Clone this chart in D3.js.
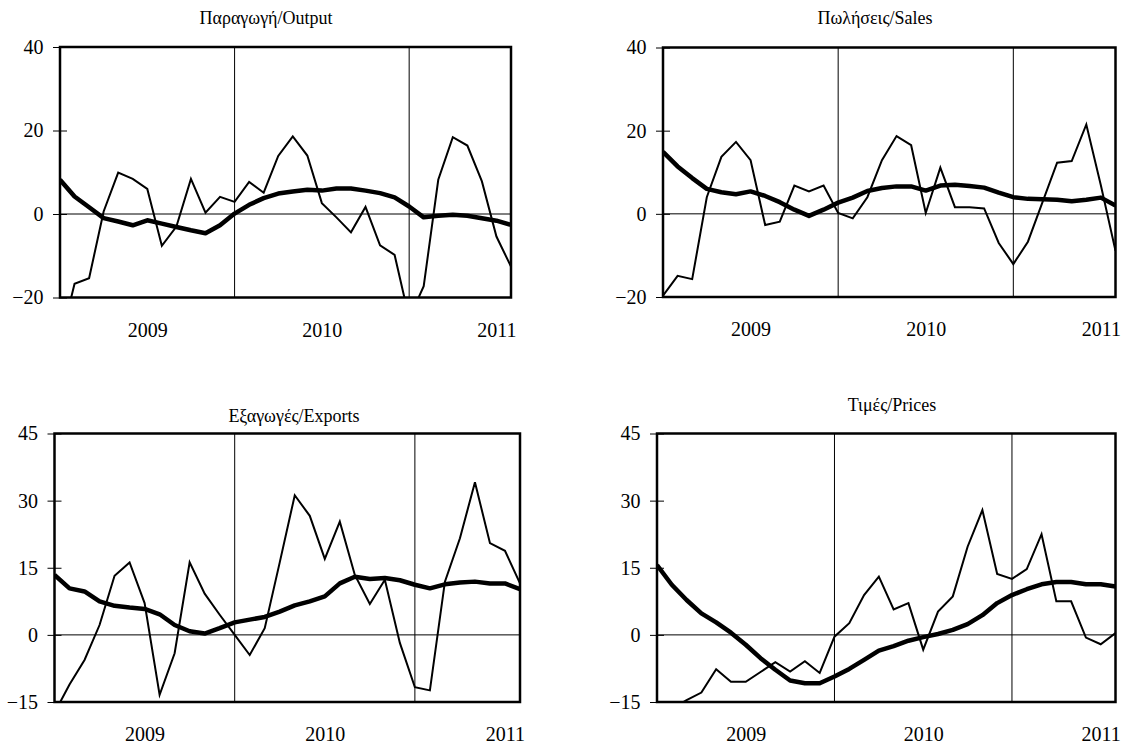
<!DOCTYPE html>
<html lang="el">
<head>
  <meta charset="UTF-8">
  <title>Output, Sales, Exports, Prices</title>
  <style type="text/css">
    body{
      margin: 0;
      background: #fff;
      font-family: "Liberation Serif", "Times New Roman", serif;
    }
    .title{
      font-size: 18px;
      fill: black;
      text-anchor: middle;
    }
    .axis text{
      font-family: "Liberation Serif", "Times New Roman", serif;
      font-size: 20px;
      fill: black;
    }
    .axis line{
      stroke: black;
      stroke-width: 1px;
    }
    .axis path{
      display: none;
    }
    .grid{
      stroke: black;
      stroke-width: 1px;
    }
    .frame{
      fill: none;
      stroke: black;
      stroke-width: 2.5px;
    }
    .actual{
      fill: none;
      stroke: black;
      stroke-width: 2px;
    }
    .trend{
      fill: none;
      stroke: black;
      stroke-width: 4.5px;
      stroke-linejoin: round;
    }
  </style>
  <script type="text/javascript" src="https://d3js.org/d3.v7.min.js"></script>
</head>
<body>
<script type="text/javascript">
  // monthly observations, Jan 2009 - Aug 2011
  var months = ['2009-01','2009-02','2009-03','2009-04','2009-05','2009-06',
                '2009-07','2009-08','2009-09','2009-10','2009-11','2009-12',
                '2010-01','2010-02','2010-03','2010-04','2010-05','2010-06',
                '2010-07','2010-08','2010-09','2010-10','2010-11','2010-12',
                '2011-01','2011-02','2011-03','2011-04','2011-05','2011-06',
                '2011-07','2011-08'];
  var yearLabels = ['2009', '2010', '2011'];
  var yearMid = ['2009-07', '2010-07', '2011-07'];
  var yearStarts = ['2010-01', '2011-01'];

  var titles = ['Παραγωγή/Output', 'Πωλήσεις/Sales', 'Εξαγωγές/Exports', 'Τιμές/Prices'];
  var ticksTop = [-20, 0, 20, 40];
  var ticksBottom = [-15, 0, 15, 30, 45];

  var outputActual = [-31, -16.7, -15.4, 0.6, 9.9, 8.4, 6.0, -7.6, -3.0, 8.4, 0.3, 4.1,
                      2.9, 7.7, 5.1, 13.9, 18.6, 14.0, 2.6, -0.8, -4.4, 1.7, -7.5, -9.8,
                      -25, -17.3, 8.2, 18.4, 16.4, 7.8, -5.4, -12.6];
  var outputTrend = [8.2, 4.2, 1.6, -1.0, -1.8, -2.7, -1.5, -2.3, -3.1, -3.9, -4.6, -2.7,
                     0.1, 2.2, 3.8, 4.9, 5.4, 5.8, 5.6, 6.1, 6.1, 5.6, 5.0, 4.0,
                     1.8, -0.8, -0.4, -0.2, -0.4, -1.0, -1.6, -2.6];

  var salesActual = [-19.7, -14.9, -15.7, 4.0, 13.7, 17.3, 12.9, -2.7, -1.9, 6.8, 5.4, 6.8,
                     0.2, -1.1, 4.0, 12.9, 18.7, 16.5, 0.2, 11.1, 1.6, 1.6, 1.3, -7.0,
                     -12.1, -6.7, 2.8, 12.3, 12.7, 21.5, 6.8, -8.9];
  var salesTrend = [14.9, 11.4, 8.6, 6.0, 5.2, 4.7, 5.4, 4.3, 2.8, 1.0, -0.5, 1.0,
                    2.7, 3.9, 5.5, 6.2, 6.6, 6.6, 5.6, 6.8, 7.0, 6.7, 6.3, 5.1,
                    4.0, 3.6, 3.5, 3.4, 3.0, 3.4, 3.9, 2.0];

  var exportsActual = [-17.4, -11.1, -5.6, 2.2, 13.2, 16.2, 7.1, -13.4, -4.1, 16.2, 9.2, 4.5,
                       0.0, -4.5, 1.5, 16.2, 31.2, 26.6, 17.0, 25.3, 13.4, 6.9, 12.3, -1.8,
                       -11.7, -12.4, 11.9, 21.6, 34.1, 20.5, 18.8, 11.5];
  var exportsTrend = [13.4, 10.4, 9.7, 7.5, 6.5, 6.1, 5.8, 4.6, 2.2, 0.8, 0.3, 1.5,
                      2.8, 3.4, 4.0, 5.2, 6.6, 7.5, 8.6, 11.5, 13.0, 12.5, 12.7, 12.2,
                      11.2, 10.4, 11.3, 11.7, 11.9, 11.5, 11.5, 10.2];

  var pricesActual = [-18, -16.5, -14.6, -12.9, -7.7, -10.5, -10.5, -8.3, -6.1, -8.2, -5.9, -8.5,
                      -0.4, 2.6, 8.9, 13.0, 5.7, 7.1, -3.3, 5.2, 8.6, 19.7, 27.9, 13.6,
                      12.5, 14.7, 22.5, 7.5, 7.5, -0.6, -2.1, 0.4];
  var pricesTrend = [15.6, 11.2, 7.8, 4.8, 2.8, 0.5, -2.2, -5.2, -7.8, -10.2, -10.8, -10.8,
                     -9.3, -7.6, -5.6, -3.5, -2.5, -1.3, -0.5, 0.2, 1.1, 2.4, 4.4, 7.1,
                     8.9, 10.2, 11.3, 11.8, 11.8, 11.3, 11.3, 10.8];

  var panels = [
    {title: titles[0], actual: outputActual, trend: outputTrend, ticks: ticksTop,
     left: 60, right: 511, top: 47, bottom: 297.5, tx: 266, ty: 24},
    {title: titles[1], actual: salesActual, trend: salesTrend, ticks: ticksTop,
     left: 663, right: 1115.5, top: 47.5, bottom: 297, tx: 875, ty: 23.5},
    {title: titles[2], actual: exportsActual, trend: exportsTrend, ticks: ticksBottom,
     left: 54.5, right: 520, top: 433.5, bottom: 702, tx: 294, ty: 421.5},
    {title: titles[3], actual: pricesActual, trend: pricesTrend, ticks: ticksBottom,
     left: 657, right: 1115.5, top: 433.5, bottom: 702, tx: 892, ty: 411}
  ];

  var svg = d3.select('body')
    .append('svg')
    .attr('width', 1129)
    .attr('height', 747);

  panels.forEach(function(p, k){
    var xScale = d3.scalePoint()
      .domain(months)
      .range([p.left, p.right]);

    var yScale = d3.scaleLinear()
      .domain(d3.extent(p.ticks))
      .range([p.bottom, p.top]);

    var g = svg.append('g').attr('class', 'panel');

    g.append('clipPath')
      .attr('id', 'clip' + k)
    .append('rect')
      .attr('x', p.left)
      .attr('y', p.top)
      .attr('width', p.right - p.left)
      .attr('height', p.bottom - p.top);

    // zero line
    g.append('line')
      .attr('class', 'grid')
      .attr('x1', p.left)
      .attr('x2', p.right)
      .attr('y1', yScale(0))
      .attr('y2', yScale(0));

    // year separators
    g.selectAll('.yearline')
      .data(yearStarts)
      .enter().append('line')
      .attr('class', 'grid yearline')
      .attr('x1', function(d){ return xScale(d); })
      .attr('x2', function(d){ return xScale(d); })
      .attr('y1', p.top)
      .attr('y2', p.bottom);

    var yAxis = d3.axisLeft(yScale)
      .tickValues(p.ticks)
      .tickSize(7)
      .tickPadding(9.5)
      .tickFormat(d3.format('d'));

    var ya = g.append('g')
      .attr('class', 'y axis')
      .attr('transform', 'translate(' + p.left + ',0)')
      .call(yAxis);
    ya.selectAll('.tick line').attr('x1', 7);

    var xAxis = d3.axisBottom(xScale)
      .tickValues(yearMid)
      .tickSize(0)
      .tickPadding(25)
      .tickFormat(function(d, i){ return yearLabels[i]; });

    g.append('g')
      .attr('class', 'x axis')
      .attr('transform', 'translate(0,' + p.bottom + ')')
      .call(xAxis);

    var line = d3.line()
      .x(function(d, i){ return xScale(months[i]); })
      .y(function(d){ return yScale(d); });

    var lines = g.append('g').attr('clip-path', 'url(#clip' + k + ')');

    lines.append('path')
      .datum(p.actual)
      .attr('class', 'actual')
      .attr('d', line);

    lines.append('path')
      .datum(p.trend)
      .attr('class', 'trend')
      .attr('d', line);

    g.append('rect')
      .attr('class', 'frame')
      .attr('x', p.left)
      .attr('y', p.top)
      .attr('width', p.right - p.left)
      .attr('height', p.bottom - p.top);

    g.append('text')
      .attr('class', 'title')
      .attr('x', p.tx)
      .attr('y', p.ty)
      .text(p.title);
  });
</script>
</body>
</html>
